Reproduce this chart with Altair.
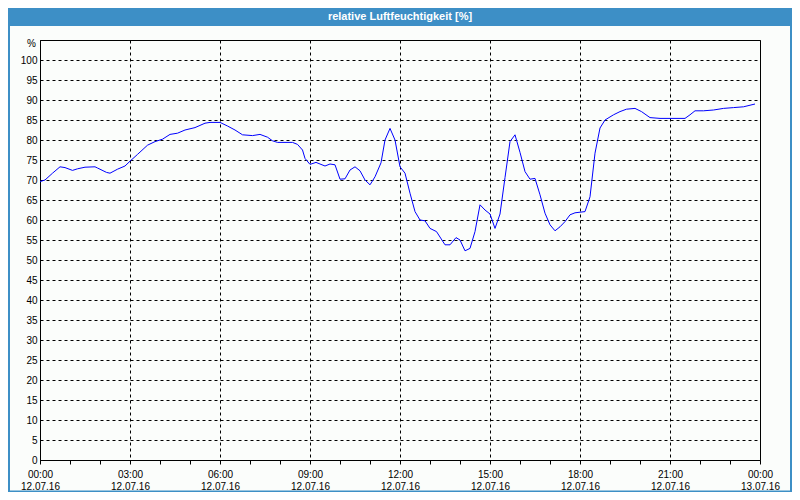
import altair as alt
import pandas as pd

title_text = "relative Luftfeuchtigkeit [%]"
y_unit = "%"

times = [
    "00:00", "00:10", "00:25", "00:40", "00:50", "01:05", "01:15", "01:30", "01:50", "01:55",
    "02:13", "02:20", "02:35", "02:50", "03:00", "03:15", "03:35", "03:50", "04:05", "04:20",
    "04:35", "04:50", "05:10", "05:30", "05:40", "06:00", "06:15", "06:30", "06:45", "07:05",
    "07:20", "07:35", "07:45", "07:55", "08:25", "08:35", "08:45", "08:50", "09:00", "09:12",
    "09:20", "09:30", "09:40", "09:50", "10:00", "10:10", "10:20", "10:30", "10:40", "10:50",
    "11:00", "11:10", "11:22", "11:30", "11:40", "11:50", "12:00", "12:10", "12:20", "12:30",
    "12:40", "12:50", "13:00", "13:13", "13:30", "13:40", "13:52", "14:00", "14:10", "14:20",
    "14:30", "14:40", "14:50", "15:00", "15:10", "15:20", "15:30", "15:40", "15:50", "16:00",
    "16:10", "16:20", "16:30", "16:40", "16:50", "17:00", "17:10", "17:20", "17:30", "17:40",
    "17:50", "18:10", "18:20", "18:30", "18:40", "18:50", "19:07", "19:20", "19:33", "19:50",
    "20:03", "20:20", "20:40", "21:30", "21:40", "21:50", "22:07", "22:27", "22:47", "23:07",
    "23:27", "23:50",
]
humidity = [
    69.6, 70.0, 71.7, 73.3, 73.1, 72.4, 72.8, 73.2, 73.3, 73.0,
    71.9, 71.7, 72.7, 73.5, 74.7, 76.4, 78.7, 79.6, 80.2, 81.4,
    81.7, 82.5, 83.1, 84.2, 84.4, 84.4, 83.5, 82.5, 81.3, 81.1,
    81.4, 80.7, 79.8, 79.4, 79.4, 78.9, 77.5, 75.4, 73.9, 74.4,
    74.0, 73.5, 74.0, 73.8, 70.2, 70.3, 72.5, 73.3, 72.3, 70.0,
    68.8, 70.8, 74.3, 80.0, 82.9, 80.0, 73.3, 71.7, 66.7, 62.1,
    60.0, 59.8, 57.9, 57.1, 53.8, 53.8, 55.6, 55.0, 52.3, 52.9,
    57.1, 63.8, 62.5, 61.5, 57.9, 61.5, 70.6, 79.6, 81.3, 76.9,
    72.1, 70.2, 70.4, 66.3, 61.7, 58.8, 57.3, 58.3, 59.6, 61.3,
    61.8, 62.1, 65.8, 76.7, 83.0, 85.0, 86.3, 87.1, 87.7, 87.9,
    87.1, 85.6, 85.4, 85.4, 86.3, 87.3, 87.3, 87.5, 87.9, 88.1,
    88.3, 89.0,
]
x_tick_hours = list(range(0, 25))
y_tick_values = list(range(0, 101, 5))

df = pd.DataFrame({"time": times, "value": humidity})
df["hour"] = df["time"].apply(lambda s: int(s[:2]) + int(s[3:]) / 60.0)

FONT = "Liberation Sans"
BLUE = "#3d8fc6"

x_label_expr = (
    "datum.value % 3 == 0 ? ["
    "(datum.value == 24 ? '00' : (datum.value < 10 ? '0' : '') + datum.value) + ':00', "
    "datum.value == 24 ? '13.07.16' : '12.07.16'] : ''"
)

line = alt.Chart(df).mark_line(color="#0000ff", strokeWidth=1, interpolate="linear").encode(
    x=alt.X(
        "hour:Q",
        scale=alt.Scale(domain=[0, 24], nice=False, zero=False),
        axis=alt.Axis(
            values=x_tick_hours,
            labelExpr=x_label_expr,
            labelLineHeight=12,
            labelFont=FONT,
            labelFontSize=10,
            labelColor="black",
            labelPadding=5,
            labelAngle=0,
            labelFlush=False,
            labelOverlap=False,
            tickSize=4,
            tickColor="black",
            domainColor="black",
            grid=True,
            gridColor="black",
            gridDash=[3, 3],
            gridOpacity={"condition": {"test": "datum.value % 3 == 0", "value": 1}, "value": 0},
            title=None,
        ),
    ),
    y=alt.Y(
        "value:Q",
        scale=alt.Scale(domain=[0, 105], nice=False),
        axis=alt.Axis(
            values=y_tick_values,
            labelFont=FONT,
            labelFontSize=10,
            labelColor="black",
            labelPadding=3,
            tickSize=0,
            domainColor="black",
            grid=True,
            gridColor="black",
            gridDash=[3, 3],
            gridOpacity=1,
            title=None,
        ),
    ),
)

one = pd.DataFrame({"t": [title_text], "u": [y_unit]})

band = alt.Chart(one).mark_rect(color=BLUE).encode(
    x=alt.value(-32), x2=alt.value(752), y=alt.value(-32), y2=alt.value(-14)
)
band_text = alt.Chart(one).mark_text(
    color="white", font=FONT, fontSize=11, fontWeight="bold", align="center", baseline="middle"
).encode(x=alt.value(360), y=alt.value(-23), text="t:N")
unit_text = alt.Chart(one).mark_text(
    color="black", font=FONT, fontSize=10, align="right", baseline="middle"
).encode(x=alt.value(-4), y=alt.value(4), text="u:N")
border = alt.Chart(one).mark_rect(fillOpacity=0, stroke=BLUE, strokeWidth=2).encode(
    x=alt.value(-31), x2=alt.value(751), y=alt.value(-31), y2=alt.value(451.5)
)

chart = alt.layer(line, band, band_text, unit_text, border).properties(
    width=720,
    height=420,
    autosize=alt.AutoSizeParams(type="none"),
    padding={"left": 32, "top": 32, "right": 32, "bottom": 32},
    background="#fbfdfb",
).configure_view(stroke="black", strokeWidth=1, fill="#fbfdfb")

chart.save("out.html", embed_options={"renderer": "svg", "actions": False})
